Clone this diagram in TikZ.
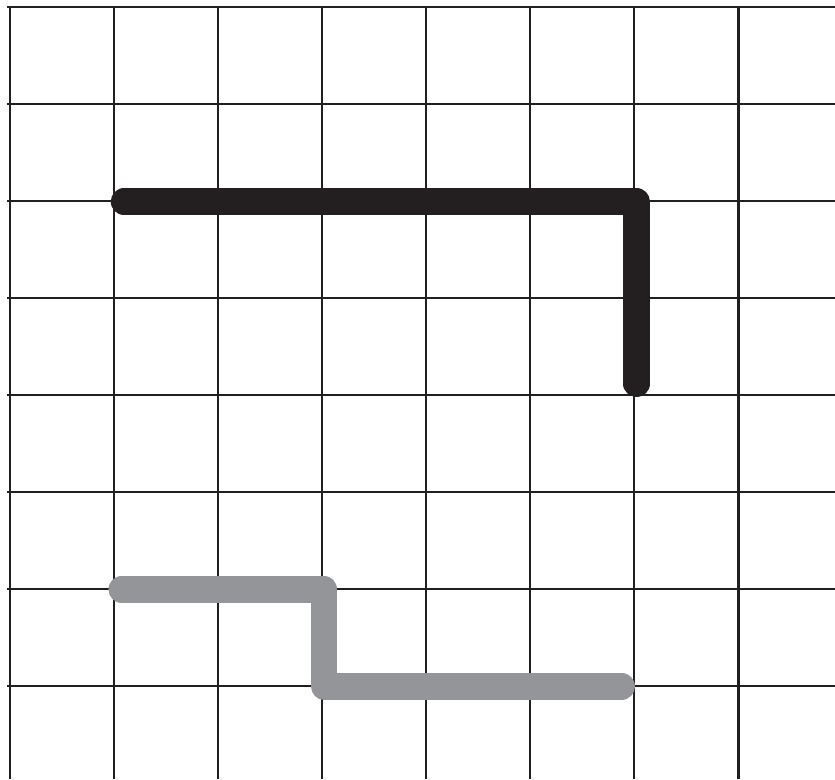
\documentclass[tikz,border=0pt]{standalone}
\usepackage{tikz}
\usetikzlibrary{positioning}
\usepackage{xcolor}
\definecolor{inkblack}{HTML}{231F20}
\definecolor{inkgray}{HTML}{939598}

\begin{document}
\begin{tikzpicture}[
    x=1pt, y=-1pt,
    gridline/.style={line width=2.2pt, inkblack},
    route/.style={line width=26.5pt, line cap=round, line join=round},
    darkroute/.style={route, inkblack},
    lightroute/.style={route, inkgray},
]
\useasboundingbox (0,0) rectangle (835,779);
\clip (0,0) rectangle (835,779);

% ── Grid ──────
\foreach \k in {0,...,7} {
    \draw[gridline] ({9.7+104.1*\k},7) -- ({9.7+104.1*\k},779);
    \draw[gridline] (7,{7.3+97*\k}) -- (835,{7.3+97*\k});
}

% ── Route points ──────
\coordinate (Astart) at (124,201.6);
\coordinate (Abend)  at (636.7,201.6);
\coordinate (Aend)   at (636.7,383.7);
\coordinate (Bstart) at (121.7,589.3);
\coordinate (Bbend1) at (324.2,589.3);
\coordinate (Bbend2) at (324.2,686.3);
\coordinate (Bend)   at (621.7,686.3);

% ── Dark route ──────
\draw[darkroute] (Astart) -- (Abend) -- (Aend);

% ── Light route ──────
\draw[lightroute] (Bstart) -- (Bbend1) -- (Bbend2) -- (Bend);

\end{tikzpicture}
\end{document}
